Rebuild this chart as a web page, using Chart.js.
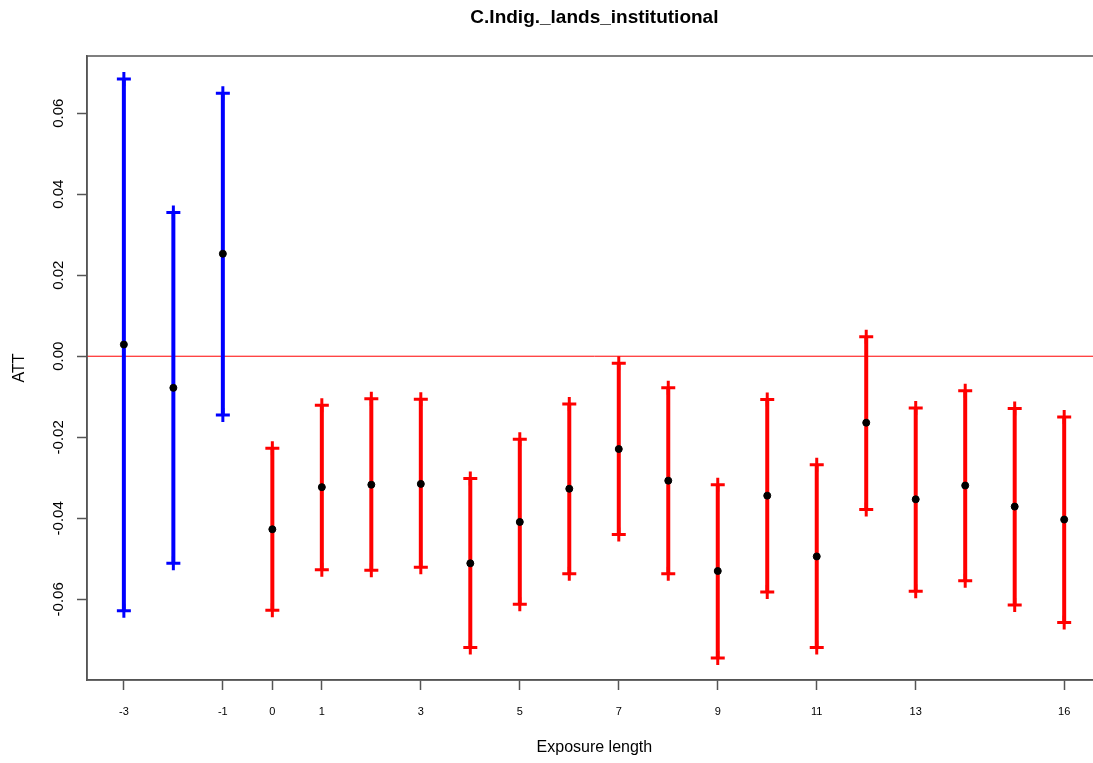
<!DOCTYPE html>
<html>
<head>
<meta charset="utf-8">
<script src="https://cdn.jsdelivr.net/npm/chart.js@4/dist/chart.umd.min.js"></script>
<style>
  html, body { margin: 0; padding: 0; background: #fff; overflow: hidden; }
  #wrap { width: 1186px; height: 763px; }
</style>
</head>
<body>
<div id="wrap"><canvas id="attChart" width="1186" height="763"></canvas></div>
<script>
// Datos
const periods = [-3, -2, -1, 0, 1, 2, 3, 4, 5, 6, 7, 8, 9, 10, 11, 12, 13, 14, 15, 16];
const att = [0.0029, -0.0078, 0.0253, -0.0427, -0.0323, -0.0317, -0.0315, -0.0511, -0.0409, -0.0327,
             -0.0229, -0.0307, -0.0530, -0.0344, -0.0494, -0.0164, -0.0353, -0.0319, -0.0371, -0.0403];
const ciLow = [-0.0628, -0.0511, -0.0145, -0.0627, -0.0527, -0.0528, -0.0521, -0.0719, -0.0612, -0.0537,
               -0.0440, -0.0537, -0.0745, -0.0582, -0.0719, -0.0378, -0.0580, -0.0554, -0.0614, -0.0657];
const ciHigh = [0.0684, 0.0355, 0.0649, -0.0227, -0.0121, -0.0105, -0.0106, -0.0302, -0.0205, -0.0118,
                -0.0017, -0.0078, -0.0317, -0.0107, -0.0268, 0.0048, -0.0128, -0.0085, -0.0129, -0.0150];
const xTickValues = [-3, -1, 0, 1, 3, 5, 7, 9, 11, 13, 16];
const yTickValues = [-0.06, -0.04, -0.02, 0.00, 0.02, 0.04, 0.06];

const fontFamily = '"Liberation Sans", Arial, sans-serif';
const axisGrey = '#555555';

// Segmentos de intervalo: inferior, superior, hueco
function intervalData(keep) {
    const pts = [];
    periods.forEach((p, i) => {
        if (!keep(p)) return;
        pts.push({ x: p, y: ciLow[i] }, { x: p, y: ciHigh[i] }, { x: p, y: null });
    });
    return pts;
}

function intervalDataset(data, color) {
    return {
        type: 'line',
        data: data,
        borderColor: color,
        backgroundColor: color,
        borderWidth: 4,
        pointStyle: 'cross',
        pointRadius: 7,
        pointBorderWidth: 3,
        pointBorderColor: color,
        spanGaps: false,
        order: 1
    };
}

// Marco del área del gráfico (estilo R)
const boxPlugin = {
    id: 'box',
    afterDraw(chart) {
        const { ctx, chartArea } = chart;
        ctx.save();
        ctx.strokeStyle = axisGrey;
        ctx.lineWidth = 1.5;
        ctx.strokeRect(chartArea.left, chartArea.top, chartArea.right - chartArea.left, chartArea.bottom - chartArea.top);
        ctx.restore();
    }
};

const ctx = document.getElementById('attChart').getContext('2d');
const attChart = new Chart(ctx, {
    type: 'scatter',
    data: {
        datasets: [
            {
                type: 'scatter',
                data: periods.map((p, i) => ({ x: p, y: att[i] })),
                backgroundColor: '#000',
                borderColor: '#000',
                pointRadius: 3.5,
                order: 0
            },
            intervalDataset(intervalData(p => p < 0), '#0000ff'),
            intervalDataset(intervalData(p => p >= 0), '#ff0000'),
            {
                type: 'line',
                data: [{ x: -5, y: 0 }, { x: 18, y: 0 }],
                borderColor: '#ff0000',
                borderWidth: 1,
                pointRadius: 0,
                order: 2
            }
        ]
    },
    options: {
        responsive: false,
        animation: false,
        layout: { padding: { left: 0, right: 84.2, top: 0, bottom: 0 } },
        plugins: {
            legend: { display: false },
            tooltip: { enabled: false },
            title: {
                display: true,
                fullSize: false,
                text: 'C.Indig._lands_institutional',
                color: '#000',
                font: { family: fontFamily, size: 19, weight: 'bold', lineHeight: 1.2 },
                padding: { top: 6.6, bottom: 26.6 }
            }
        },
        scales: {
            x: {
                type: 'linear',
                min: -3.745,
                max: 16.76,
                afterBuildTicks: scale => { scale.ticks = xTickValues.map(v => ({ value: v })); },
                afterFit: scale => { scale.height = 83; },
                grid: { display: true, drawOnChartArea: false, tickLength: 10, tickColor: axisGrey, tickWidth: 1.5 },
                border: { display: true, color: axisGrey, width: 1.5 },
                ticks: {
                    color: '#000',
                    font: { family: fontFamily, size: 11 },
                    padding: 15.5,
                    maxRotation: 0,
                    autoSkip: false,
                    callback: v => String(v)
                },
                title: {
                    display: true,
                    text: 'Exposure length',
                    color: '#000',
                    font: { family: fontFamily, size: 16, lineHeight: 1.2 },
                    padding: { top: 0, bottom: 5.5 }
                }
            },
            y: {
                min: -0.0799,
                max: 0.0741,
                afterBuildTicks: scale => { scale.ticks = yTickValues.map(v => ({ value: v })); },
                afterFit: scale => { scale.width = 87; },
                grid: { display: true, drawOnChartArea: false, tickLength: 10, tickColor: axisGrey, tickWidth: 1.5 },
                border: { display: true, color: axisGrey, width: 1.5 },
                ticks: {
                    color: '#000',
                    font: { family: fontFamily, size: 15 },
                    padding: 1.5,
                    minRotation: 90,
                    maxRotation: 90,
                    crossAlign: 'center',
                    autoSkip: false,
                    callback: v => v.toFixed(2)
                },
                title: {
                    display: true,
                    text: 'ATT',
                    color: '#000',
                    font: { family: fontFamily, size: 16, lineHeight: 1.2 },
                    padding: { top: 10.4, bottom: 0 }
                }
            }
        }
    },
    plugins: [boxPlugin]
});
</script>
</body>
</html>
